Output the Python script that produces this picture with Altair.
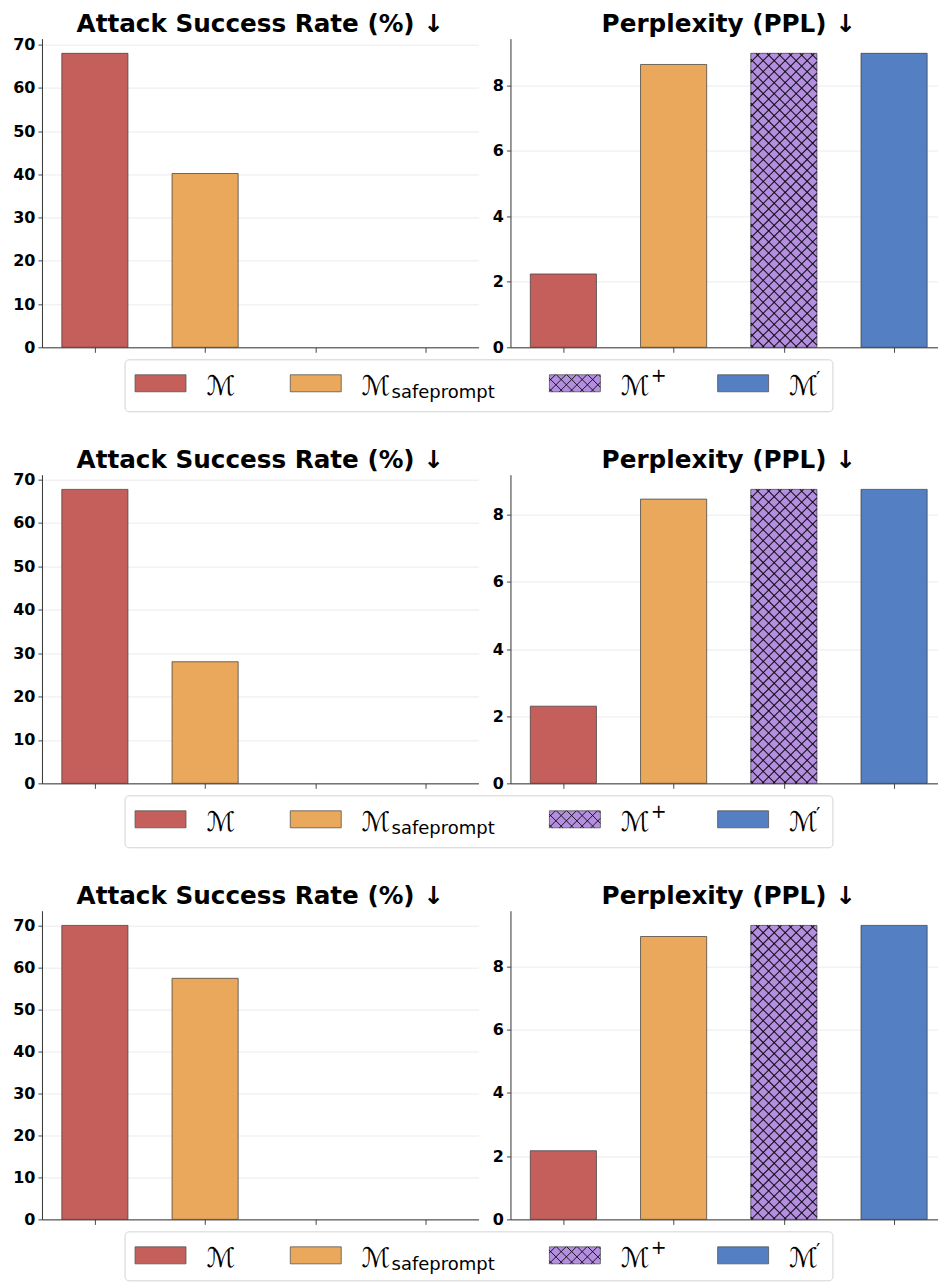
import math

import altair as alt
import pandas as pd

# ---- data -------------------------------------------------------------
MODELS = ["M", "M_safeprompt", "M_plus", "M_prime"]
LABEL_SUB = ["", "safeprompt", "", ""]
LABEL_SUP = ["", "", "+", "′"]
COLORS = ["#C55F5B", "#E9A85B", "#B48FE0", "#557FC3"]
HATCHED = [False, False, True, False]

# attack success rate (%) per setting
ASR = [
    [68.0, 40.2, 0.0, 0.0],
    [67.7, 28.0, 0.0, 0.0],
    [70.0, 57.4, 0.0, 0.0],
]
# perplexity per setting
PPL = [
    [2.24, 8.64, 8.98, 8.98],
    [2.30, 8.47, 8.76, 8.76],
    [2.17, 8.94, 9.29, 9.29],
]
ASR_TICKS = [0, 10, 20, 30, 40, 50, 60, 70]
PPL_TICKS = [0, 2, 4, 6, 8]
ASR_TITLE = "Attack Success Rate (%) ↓"
PPL_TITLE = "Perplexity (PPL) ↓"

# ---- layout -----------------------------------------------------------
LEFT_W, RIGHT_W, PLOT_H = 437, 428, 309
COL_GAP, ROW_GAP = 32, 127.5
BAR_W = 0.6
X_MIN, X_MAX_LEFT = -0.48, 3.48
KX = LEFT_W / (X_MAX_LEFT - X_MIN)
X_MAX_RIGHT = X_MIN + RIGHT_W / KX
HATCH_STEP = 11
TITLE_X = LEFT_W / 2  # titles centred on the full-width axes
TITLE_Y = -6.3

# legend geometry (matplotlib-like em units)
EM = 25.5
HANDLE_W, HANDLE_H = 2 * EM, 17
TEXT_PAD, COL_SPACE = 0.8 * EM, 2 * EM
PAD_L, PAD_R = 10, 11
LABEL_W = [33, 137, 46, 33]
BOX_H, LAST_BOX_H = 52, 49
LEGEND_CX = LEFT_W + 0.5

FONT = "DejaVu Sans"
color_scale = alt.Scale(domain=MODELS, range=COLORS)


def hatch_lines(x0, x1, y0, y1, step):
    """Cross-hatch segments clipped to a pixel rectangle."""
    segs = []
    for k in range(math.floor((y0 - x1) / step), math.ceil((y1 - x0) / step) + 1):
        c = k * step
        xa, xb = max(x0, y0 - c), min(x1, y1 - c)
        if xb - xa > 0.5:
            segs.append((xa, xa + c, xb, xb + c))
    for k in range(math.floor((x0 + y0) / step), math.ceil((x1 + y1) / step) + 1):
        c = k * step
        xa, xb = max(x0, c - y1), min(x1, c - y0)
        if xb - xa > 0.5:
            segs.append((xa, c - xa, xb, c - xb))
    return segs


def legend_layers(box_h):
    box_w = PAD_L + PAD_R + sum(HANDLE_W + TEXT_PAD + w for w in LABEL_W) + 3 * COL_SPACE
    bx0 = LEGEND_CX - box_w / 2
    by0 = PLOT_H + 12.5
    box = pd.DataFrame([{"x": bx0, "x2": bx0 + box_w, "y": by0, "y2": by0 + box_h}])

    rows, hatch = [], []
    cx = bx0 + PAD_L
    for i, m in enumerate(MODELS):
        sx0, sy0 = cx, by0 + 15
        sx1, sy1 = sx0 + HANDLE_W, sy0 + HANDLE_H
        lx = sx1 + TEXT_PAD
        plus = LABEL_SUP[i] == "+"
        rows.append({
            "model": m, "sx0": sx0, "sx1": sx1, "sy0": sy0, "sy1": sy1,
            "lx": lx, "ly": by0 + 35, "base": "ℳ",
            "sub": LABEL_SUB[i], "subx": lx + 30, "suby": by0 + 38,
            "sup": LABEL_SUP[i], "supx": lx + (30 if plus else 27),
            "supy": by0 + (22 if plus else 25),
        })
        if HATCHED[i]:
            for a, b, c, d in hatch_lines(sx0, sx1, sy0, sy1, 10.5):
                hatch.append({"x": a, "y": b, "x2": c, "y2": d})
        cx = lx + LABEL_W[i] + COL_SPACE
    items = pd.DataFrame(rows)
    hdf = pd.DataFrame(hatch)

    def px(f):
        return alt.X(f"{f}:Q", scale=None, axis=None)

    def py(f):
        return alt.Y(f"{f}:Q", scale=None, axis=None)

    frame = alt.Chart(box).mark_rect(
        fill="white", stroke="#d3d3d3", strokeWidth=1, cornerRadius=4
    ).encode(x=px("x"), x2="x2:Q", y=py("y"), y2="y2:Q")
    swatch = alt.Chart(items).mark_rect(stroke="#555555", strokeWidth=0.8).encode(
        x=px("sx0"), x2="sx1:Q", y=py("sy0"), y2="sy1:Q",
        fill=alt.Fill("model:N", scale=color_scale, legend=None),
    )
    sw_hatch = alt.Chart(hdf).mark_rule(color="black", strokeWidth=1, opacity=0.85).encode(
        x=px("x"), x2="x2:Q", y=py("y"), y2="y2:Q"
    )
    base = alt.Chart(items).mark_text(
        font=FONT, fontSize=27, align="left", baseline="alphabetic", color="black"
    ).encode(x=px("lx"), y=py("ly"), text="base:N")
    sub = alt.Chart(items).transform_filter("datum.sub != ''").mark_text(
        font=FONT, fontSize=18, align="left", baseline="alphabetic", color="black"
    ).encode(x=px("subx"), y=py("suby"), text="sub:N")
    sup = alt.Chart(items).transform_filter("datum.sup != ''").mark_text(
        font=FONT, fontSize=19, align="left", baseline="alphabetic", color="black"
    ).encode(x=px("supx"), y=py("supy"), text="sup:N")
    return [frame, swatch, sw_hatch, base, sub, sup]


def panel(values, title, ticks, width, xmax, box_h=None):
    ymax = max(values) * 1.05
    df = pd.DataFrame({"model": MODELS, "pos": range(len(MODELS)), "val": values})
    xs = alt.Scale(domain=[X_MIN, xmax], nice=False, zero=False)
    ys = alt.Scale(domain=[0, ymax], nice=False, zero=True)

    x_axis = alt.Axis(values=[0, 1, 2, 3], labels=False, grid=False, title=None,
                      tickSize=5, tickColor="#333333", tickWidth=0.9,
                      domainColor="#333333", domainWidth=1)
    y_axis = alt.Axis(values=ticks, title=None, grid=True, gridColor="#e9e9e9",
                      gridWidth=0.9, tickSize=4, tickColor="#333333", tickWidth=0.9,
                      domainColor="#333333", domainWidth=1, labelFont=FONT,
                      labelFontSize=16, labelFontWeight="bold", labelColor="black",
                      labelPadding=3)

    bars = alt.Chart(df).transform_filter("datum.val > 0").transform_calculate(
        xl=f"datum.pos - {BAR_W / 2}", xr=f"datum.pos + {BAR_W / 2}", zero="0"
    ).mark_rect(stroke="#3a3a3a", strokeWidth=0.9, strokeOpacity=0.8).encode(
        x=alt.X("xl:Q", scale=xs, axis=x_axis),
        x2="xr:Q",
        y=alt.Y("val:Q", scale=ys, axis=y_axis),
        y2="zero:Q",
        fill=alt.Fill("model:N", scale=color_scale, legend=None),
    )

    # cross-hatching for the hatched series, laid out at 45 degrees on screen
    segs = []
    for i, v in enumerate(values):
        if not HATCHED[i] or v <= 0:
            continue
        x0 = (i - BAR_W / 2 - X_MIN) * KX
        x1 = (i + BAR_W / 2 - X_MIN) * KX
        y0 = PLOT_H * (1 - v / ymax)
        for a, b, c, d in hatch_lines(x0, x1, y0, PLOT_H, HATCH_STEP):
            segs.append({
                "hx": X_MIN + a / KX, "hy": ymax * (1 - b / PLOT_H),
                "hx2": X_MIN + c / KX, "hy2": ymax * (1 - d / PLOT_H),
            })
    layers = [bars]
    if segs:
        layers.append(
            alt.Chart(pd.DataFrame(segs)).mark_rule(
                color="black", strokeWidth=1.1, opacity=0.85
            ).encode(
                x=alt.X("hx:Q", scale=xs, axis=x_axis), x2="hx2:Q",
                y=alt.Y("hy:Q", scale=ys, axis=y_axis), y2="hy2:Q",
            )
        )

    heading = alt.Chart(pd.DataFrame({"title": [title]})).mark_text(
        font=FONT, fontSize=24.7, fontWeight="bold", align="center",
        baseline="alphabetic", color="black",
    ).encode(text="title:N", x=alt.value(TITLE_X), y=alt.value(TITLE_Y))
    layers.append(heading)

    if box_h is not None:
        layers += legend_layers(box_h)

    return alt.layer(*layers).properties(width=width, height=PLOT_H)


panels = []
for r in range(len(ASR)):
    bh = LAST_BOX_H if r == len(ASR) - 1 else BOX_H
    panels.append(panel(ASR[r], ASR_TITLE, ASR_TICKS, LEFT_W, X_MAX_LEFT, box_h=bh))
    panels.append(panel(PPL[r], PPL_TITLE, PPL_TICKS, RIGHT_W, X_MAX_RIGHT))

chart = alt.concat(
    *panels, columns=2, bounds="flush",
    spacing=alt.RowColnumber(row=ROW_GAP, column=COL_GAP),
).resolve_scale(
    x="independent", y="independent"
).properties(
    padding={"left": 12, "top": 11, "right": 0, "bottom": 0},
    background="white",
).configure_view(stroke=None)

chart.save("out.html", embed_options={"renderer": "svg", "actions": False})
